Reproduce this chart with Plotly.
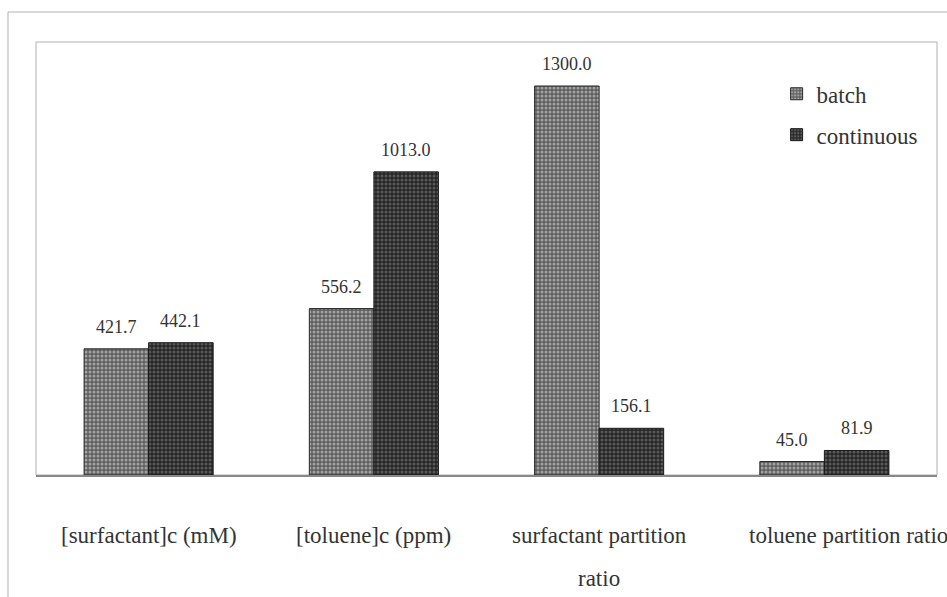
import plotly.graph_objects as go

categories = ["[surfactant]c (mM)", "[toluene]c (ppm)", "surfactant partition ratio", "toluene partition ratio"]
label_lines = [["[surfactant]c (mM)"], ["[toluene]c (ppm)"], ["surfactant partition", "ratio"], ["toluene partition ratio"]]
batch = [421.7, 556.2, 1300.0, 45.0]
continuous = [442.1, 1013.0, 156.1, 81.9]

FONT = "Liberation Serif, Times New Roman, serif"
bargap = 0.427

fig = go.Figure()
fig.add_trace(go.Bar(
    name="batch", x=categories, y=batch, legendgroup="a",
    marker=dict(color="#6a6a6a", line=dict(color="#2a2a2a", width=1),
                pattern=dict(shape=".", size=4, solidity=0.45, fgcolor="#e6e6e6", bgcolor="#5e5e5e", fillmode="overlay")),
))
fig.add_trace(go.Bar(
    name="continuous", x=categories, y=continuous, legendgroup="b",
    marker=dict(color="#333333", line=dict(color="#1a1a1a", width=1),
                pattern=dict(shape=".", size=4, solidity=0.45, fgcolor="#8c8c8c", bgcolor="#262626", fillmode="overlay")),
))

ann = []
off = (1 - bargap) / 4
for i, (b, c) in enumerate(zip(batch, continuous)):
    for v, dx in ((b, -off), (c, off)):
        ann.append(dict(x=i + dx, y=v, xref="x", yref="y", text=f"{v:.1f}", showarrow=False,
                        yanchor="bottom", yshift=10, font=dict(family=FONT, size=18, color="#333")))
for i, lines in enumerate(label_lines):
    xs = 24 if i == 3 else 0
    for k, t in enumerate(lines):
        ann.append(dict(x=i, y=0, xref="x", yref="y", text=t, showarrow=False, xshift=xs,
                        yanchor="middle", yshift=-60 - 43 * k, font=dict(family=FONT, size=23, color="#333")))
fig.update_layout(annotations=ann)

fig.update_layout(
    width=947, height=597,
    margin=dict(l=36, r=10, t=42, b=122, autoexpand=False),
    paper_bgcolor="white", plot_bgcolor="white",
    barmode="group", bargap=bargap, bargroupgap=0,
    showlegend=True,
    legend=dict(x=0.822, y=0.93, xanchor="left", yanchor="top", traceorder="grouped",
                tracegroupgap=8, font=dict(family=FONT, size=23, color="#333"),
                bgcolor="rgba(0,0,0,0)", itemwidth=30),
    xaxis=dict(range=[-0.5, 3.5], showticklabels=False, ticks="", showgrid=False, showline=True,
               linecolor="#888", linewidth=1.5, mirror=False, zeroline=False),
    yaxis=dict(range=[0, 1447], showticklabels=False, ticks="", showgrid=False,
               showline=False, zeroline=False),
    shapes=[
        dict(type="rect", xref="paper", yref="paper", x0=0, x1=1, y0=0, y1=1,
             line=dict(color="#b0b0b0", width=1), layer="below"),
        dict(type="line", xref="paper", yref="paper", x0=-28/901, x1=1.02, y0=1 + 30/433, y1=1 + 30/433,
             line=dict(color="#b0b0b0", width=1)),
        dict(type="line", xref="paper", yref="paper", x0=-28/901, x1=-28/901, y0=1 + 30/433, y1=-122/433,
             line=dict(color="#b0b0b0", width=1)),
    ],
)

fig.write_html("out.html")
